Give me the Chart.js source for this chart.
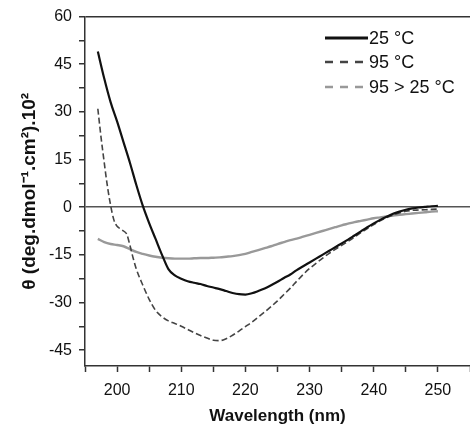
<!DOCTYPE html>
<html>
<head>
<meta charset="utf-8">
<script src="https://cdn.jsdelivr.net/npm/chart.js@4.4.0/dist/chart.umd.min.js"></script>
<style>
  html, body { margin: 0; padding: 0; background: #fff; }
  #wrap { width: 470px; height: 427px; }
</style>
</head>
<body>
<div id="wrap"><canvas id="cd" width="470" height="427"></canvas></div>
<script>
// CD spectra
const seriesLabels = ['25 °C', '95 °C', '95 > 25 °C'];

const wl25 = [197, 198, 199, 200, 201, 202, 203, 204, 205, 206, 207, 208, 209, 210, 211, 212, 213, 214, 215, 216, 217, 218, 219, 220, 221, 222, 223, 224, 225, 226, 227, 228, 229, 230, 231, 232, 233, 234, 235, 236, 237, 238, 239, 240, 241, 242, 243, 244, 245, 246, 247, 248, 249, 250];
const theta25 = [49, 40.5, 33, 27, 20.5, 14, 7, 0.5, -5, -10, -15, -19.5, -21.5, -22.5, -23.3, -23.8, -24.2, -24.8, -25.3, -25.8, -26.4, -27, -27.4, -27.5, -27.1, -26.4, -25.6, -24.6, -23.5, -22.3, -21.2, -19.8, -18.6, -17.4, -16.2, -15, -13.8, -12.6, -11.4, -10.2, -8.9, -7.6, -6.3, -5.1, -4, -3, -2.1, -1.4, -0.8, -0.4, -0.1, 0.1, 0.3, 0.4];

const wl95 = [197, 197.5, 198, 198.5, 199, 199.5, 200, 200.5, 201, 201.5, 202, 202.5, 203, 204, 205, 206, 207, 208, 209, 210, 211, 212, 213, 214, 215, 216, 217, 218, 219, 220, 221, 222, 223, 224, 225, 226, 227, 228, 229, 230, 231, 232, 233, 234, 235, 236, 237, 238, 239, 240, 241, 242, 243, 244, 245, 246, 247, 248, 249, 250];
const theta95 = [31, 22, 14, 6.5, 0.5, -4, -6, -6.8, -7.5, -8.5, -12, -16, -19.5, -24.5, -29, -32.5, -34.5, -35.8, -36.6, -37.5, -38.5, -39.5, -40.4, -41.2, -41.9, -42, -41.4, -40.3, -39, -37.6, -36.2, -34.6, -33, -31.3, -29.5, -27.5, -25.5, -23.3, -21.2, -19.3, -17.7, -16.1, -14.6, -13.3, -12, -10.8, -9.4, -8, -6.7, -5.5, -4.3, -3.3, -2.5, -1.8, -1.3, -1, -0.9, -0.8, -0.7, -0.6];

const wlBack = wl25;
const thetaBack = [-10, -11, -11.6, -11.9, -12.3, -13.2, -14.1, -14.7, -15.2, -15.6, -15.9, -16.1, -16.2, -16.2, -16.2, -16.1, -16, -16, -15.9, -15.8, -15.6, -15.4, -15.1, -14.7, -14.1, -13.5, -12.9, -12.3, -11.6, -11, -10.4, -9.9, -9.3, -8.7, -8.1, -7.5, -6.9, -6.3, -5.7, -5.2, -4.7, -4.3, -3.9, -3.5, -3.2, -2.9, -2.6, -2.4, -2.2, -2, -1.8, -1.6, -1.4, -1.3];

const xTicks = [195, 200, 205, 210, 215, 220, 225, 230, 235, 240, 245, 250, 255];
const yTicks = [-45, -37.5, -30, -22.5, -15, -7.5, 0, 7.5, 15, 22.5, 30, 37.5, 45, 52.5, 60];

const pts = (xs, ys) => xs.map((x, i) => ({ x: x, y: ys[i] }));
const FONT = "'Liberation Sans', Arial, sans-serif";

// legend drawn inside the plot, top right, with line samples
const insideLegend = {
  id: 'insideLegend',
  afterDatasetsDraw(chart) {
    const ctx = chart.ctx;
    const rows = [38, 62, 87];
    ctx.save();
    chart.data.datasets.forEach((ds, i) => {
      const y = rows[i];
      ctx.beginPath();
      ctx.strokeStyle = ds.legendColor;
      ctx.lineWidth = ds.legendWidth;
      ctx.setLineDash(ds.legendDash);
      ctx.moveTo(325, y);
      ctx.lineTo(368, y);
      ctx.stroke();
      ctx.setLineDash([]);
      ctx.fillStyle = '#111';
      ctx.font = '18px ' + FONT;
      ctx.textAlign = 'left';
      ctx.textBaseline = 'middle';
      ctx.fillText(ds.label, 369, y + 1);
    });
    ctx.restore();
  }
};

new Chart(document.getElementById('cd'), {
  type: 'line',
  data: {
    datasets: [
      {
        label: seriesLabels[0],
        data: pts(wl25, theta25),
        borderColor: '#111',
        borderWidth: 2.2,
        legendColor: '#111', legendWidth: 3, legendDash: []
      },
      {
        label: seriesLabels[1],
        data: pts(wl95, theta95),
        borderColor: '#444',
        borderWidth: 1.6,
        borderDash: [6, 3],
        legendColor: '#444', legendWidth: 2.5, legendDash: [8, 7]
      },
      {
        label: seriesLabels[2],
        data: pts(wlBack, thetaBack),
        borderColor: '#999',
        borderWidth: 2.4,
        legendColor: '#999', legendWidth: 2.5, legendDash: [8, 7]
      }
    ]
  },
  options: {
    responsive: false,
    animation: false,
    events: [],
    elements: {
      point: { radius: 0 },
      line: { cubicInterpolationMode: 'monotone', fill: false }
    },
    layout: { padding: { top: 16, right: 0, bottom: 0, left: 0 } },
    plugins: {
      legend: { display: false },
      tooltip: { enabled: false }
    },
    scales: {
      x: {
        type: 'linear',
        min: 195,
        max: 255,
        afterBuildTicks: (scale) => { scale.ticks = xTicks.map(v => ({ value: v })); },
        afterFit: (scale) => { scale.height = 61; scale.paddingRight = 0; scale.paddingLeft = 0; },
        ticks: {
          autoSkip: false,
          maxRotation: 0,
          padding: 9,
          color: '#111',
          font: { family: FONT, size: 16 },
          callback: (v) => (v % 10 === 0 && v >= 200 && v <= 250) ? String(v) : ''
        },
        grid: { drawOnChartArea: false, tickLength: 6, tickColor: '#333', tickWidth: 1.5 },
        border: { display: true, color: '#333', width: 1.5 },
        title: {
          display: true,
          text: 'Wavelength (nm)',
          color: '#111',
          font: { family: FONT, size: 17, weight: 'bold' },
          padding: { top: 0, bottom: 0 }
        }
      },
      y: {
        min: -50,
        max: 60,
        afterBuildTicks: (scale) => { scale.ticks = yTicks.map(v => ({ value: v })); },
        afterFit: (scale) => { scale.width = 85; },
        ticks: {
          autoSkip: false,
          padding: 7,
          color: '#111',
          font: { family: FONT, size: 16 },
          callback: (v) => (v % 15 === 0) ? String(v) : ''
        },
        grid: {
          drawOnChartArea: true,
          tickLength: 6,
          tickColor: '#333',
          tickWidth: 1.5,
          color: (c) => c.tick && c.tick.value === 0 ? '#555' : (c.tick && c.tick.value === 60 ? '#333' : 'rgba(0,0,0,0)'),
          lineWidth: 1.5
        },
        border: { display: true, color: '#333', width: 1.5 },
        title: {
          display: true,
          text: 'θ (deg.dmol⁻¹.cm²).10²',
          color: '#111',
          font: { family: FONT, size: 19, weight: 'bold' },
          padding: { top: 18, bottom: 0 }
        }
      }
    }
  },
  plugins: [insideLegend]
});
</script>
</body>
</html>
